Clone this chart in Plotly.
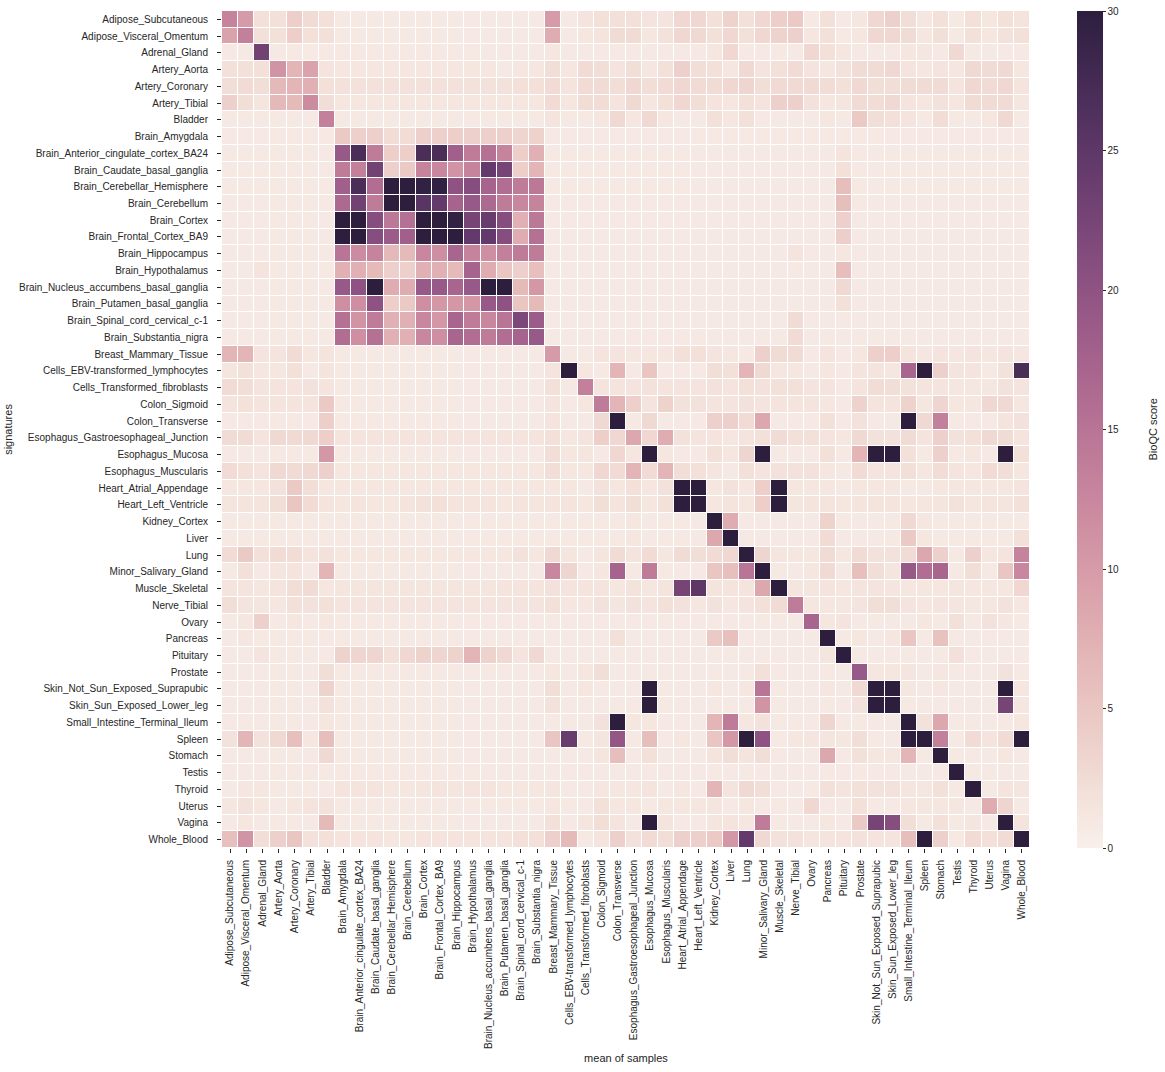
import numpy as np
import plotly.graph_objects as go

tissues = [
    "Adipose_Subcutaneous", "Adipose_Visceral_Omentum", "Adrenal_Gland", "Artery_Aorta",
    "Artery_Coronary", "Artery_Tibial", "Bladder", "Brain_Amygdala",
    "Brain_Anterior_cingulate_cortex_BA24", "Brain_Caudate_basal_ganglia",
    "Brain_Cerebellar_Hemisphere", "Brain_Cerebellum", "Brain_Cortex",
    "Brain_Frontal_Cortex_BA9", "Brain_Hippocampus", "Brain_Hypothalamus",
    "Brain_Nucleus_accumbens_basal_ganglia", "Brain_Putamen_basal_ganglia",
    "Brain_Spinal_cord_cervical_c-1", "Brain_Substantia_nigra", "Breast_Mammary_Tissue",
    "Cells_EBV-transformed_lymphocytes", "Cells_Transformed_fibroblasts", "Colon_Sigmoid",
    "Colon_Transverse", "Esophagus_Gastroesophageal_Junction", "Esophagus_Mucosa",
    "Esophagus_Muscularis", "Heart_Atrial_Appendage", "Heart_Left_Ventricle",
    "Kidney_Cortex", "Liver", "Lung", "Minor_Salivary_Gland", "Muscle_Skeletal",
    "Nerve_Tibial", "Ovary", "Pancreas", "Pituitary", "Prostate",
    "Skin_Not_Sun_Exposed_Suprapubic", "Skin_Sun_Exposed_Lower_leg",
    "Small_Intestine_Terminal_Ileum", "Spleen", "Stomach", "Testis", "Thyroid",
    "Uterus", "Vagina", "Whole_Blood",
]
samples = list(tissues)      # x axis: mean of samples
signatures = list(tissues)   # y axis: signatures

scores = [
 [13,10,2,2,4,2.5,2, 1,1,1,1,1,1,1,1,1,1, 1,1,1,10,1,1.5,2,2,2,1.5,1.5,3,3,2,3.5,2,3, 4,4.5,1,2,0.8,1.2,3,3.8,2.3,1.2,2,1,2,1.2,2,1.5],
 [9,13.5,2,2,4,2,2, 1,1,1,1,1,1,1,1,1,1, 1,1,1,8,1,1.2,1.5,2.5,2.5,1.2,1.8,3,2.8,2,3,2,3, 3.5,3.8,1.2,2,1,1.2,3,3,2.5,1.2,2.2,1,2,1.2,1.8,2],
 [1,1,23,1,1,0.7,1, 1,1,1,1,1,1,1,1,1,1, 1,1,1,1.2,1,1,1,1,1,1,1,1,1,1.2,3,1,1, 1,0.8,3,2,1.2,1,1,1,1.2,1.2,1,2.8,0.8,0.8,1,1],
 [2,2,2,11,7,9,1.5, 1.2,1.2,1.2,1.2,1.2,1.2,1.2,1.2,1.2,1.2, 1,1.2,1.2,2.3,1.2,2.6,2.3,1.5,2.3,1.2,2,3.8,2.3,2,1.2,2.8,1.5, 2,2.6,1.5,1.2,1.8,2.5,2.5,3,1.5,1.2,1.5,1.2,2.8,2.5,2.8,1.2],
 [2.3,2.6,2.3,6.5,7,7.5,2, 1.8,1.8,1.8,1.8,1.8,1.8,1.8,1.8,1.8,1.8, 1.8,2,2,2.6,1.6,2.6,2.5,2.3,3,2.3,2.6,3,2.6,2.5,3,3.2,2.3, 2.7,2.7,2.7,2.4,2,2.8,2.3,2.3,2.5,2.5,2.5,1.5,3,2.6,3,1.5],
 [3.8,2.3,1.4,6.5,6.3,12,2.3, 1.2,1.2,1.2,1.2,1.2,1.2,1.2,1.2,1.2,1.2, 1.2,1.2,1.2,2.6,1.2,2.4,2.4,1.6,2.8,1.2,2,3,2.3,1.5,1.2,2,1.5, 3.8,3.8,1.8,1.2,1.4,2.5,2.4,2.8,1.5,1.2,1.8,1.2,2.5,2.5,2.5,1.2],
 [1,1,1,1,1,1,13.5, 1,1,1,1,1,1,1,1,1,1, 1,1,1,1.5,1,1,1.2,2.8,1.2,2.8,1.2,1,1,2,1.3,2,1, 1,1,1,1.2,1,4.5,2.3,2,1.6,1,2.4,1,1,1.2,2.8,1],
 [1,1,1,1,1,1,1, 4.5,3.8,3.8,2.4,2.4,3.8,3.8,4,3.8,3.8, 3.8,3.2,3.5,1,1,1,1,1,1,1,1,1,1,1,1,1,1, 1,1,1,1,1,1,1,1,1,1,1,1,1,1,1,1],
 [1,1,1,1,1,1,1, 19,27,14,4,4,27,27,18,14,15.5, 13,4,7.5,1,1,1,1,1,1,1,1,1,1,1,1,1,1, 1,1,1,1,1.6,1,1,1,1,1,1,1,1,1,1,1],
 [1,1,1,1,1,1,1, 14,13.5,23,3.8,4.5,13,12.5,11,13,24.5, 22.5,4,7,1,1,1,1,1,1,1,1,1,1,1,1,1,1, 1,1,1,1,2,1,1,1,1,1,1,1,1,1,1,1],
 [1,1,1,1,1,1,1, 18,27,16,30,30,29.5,29.5,20,21,17.5, 16,14,14.5,1,1,1,1,1,1,1,1,1,1,1,1,1,1, 1,1,1,1,6,1,1,1,1,1,1,1,1,1,1,1],
 [1,1,1,1,1,1,1, 16.5,23,14,30,30,25.5,24.5,17.5,19,16.5, 14,12.5,13,1,1,1,1,1,1,1,1,1,1,1,1,1,1, 1,1,1,1,6,1,1,1,1,1,1,1,1,1,1,1],
 [1,1,1,1,1,1,1, 30,30,21,14.5,15.5,30,30,29.5,22.5,24, 21,7.5,14.5,1,1,1,1,1,1,1,1,1,1,1,1,1,1, 1,1,1,1,3.8,1,1,1,1,1,1,1,1,1,1,1],
 [1,1,1,1,1,1,1, 30,30,21,18.5,18,30,30,30,24.5,24.5, 21,8,15.5,1,1,1,1,1,1,1,1,1,1,1,1,1,1, 1,1,1,1,4,1,1,1,1,1,1,1,1,1,1,1],
 [1,1,1,1,1,1,1, 15,12,13,6.5,6.3,12.5,11.5,17,13,11.5, 13.5,14,14,1,1,1,1,1,1,1,1,1,1,1,1,1,1, 1,1.5,1,1,1.2,1,1,1,1,1,1,1,1,1,1,1],
 [1,1,1.6,1,1,1,1, 7.5,7.5,6.3,3.8,3.8,7.5,7.5,6.3,17.5,8, 5,3.8,5.8,1,1,1,1,1,1,1,1,1,1,1,1,1,1, 1,1,1,1,6,1,1,1,1,1,1,1,1,1,1,1],
 [1,1,1,1,1,1,1, 19,20,30,8,8,19,19,17,19,30, 30,6.3,10.5,1,1,1,1,1,1,1,1,1,1,1,1,1,1, 1,1,1,1,2.8,1,1,1,1,1,1,1,1,1,1,1],
 [1,1,1,1,1,1,1, 11.5,11.5,20,4,4.5,11.5,10.5,10.5,10.5,19, 20,5,6.3,1,1,1,1,1,1,1,1,1,1,1,1,1,1, 1,1,1,1,2,1,1,1,1,1,1,1,1,1,1,1],
 [1,1,1,1,1,1,1, 15.5,11,14,7.5,7.5,12.5,10.5,17,14,12.5, 15,22,18.5,1,1,1,1,1,1,1,1,1,1,1,1,1,1, 1,2.5,1,1,1,1,1,1,1,1,1,1,1,1,1,1],
 [1,1,1,1,1,1,1, 16,11.5,15.5,7.5,7.5,12.5,11.5,17,16,14, 16,17.5,19,1,1,1,1,1,1,1,1,1,1,1,1,1,1, 1,2.6,1,1,1,1,1,1,1,1,1,1,1,1,1,1],
 [7,7,1.5,1.5,2.6,1.3,1.5, 1,1,1,1,1,1,1,1,1,1, 1,1,1,10,1,1,1.5,1.5,1.3,1.2,1.2,2,2,1.5,1.3,1,3.8, 2.5,2.5,1,1.5,1,1.2,3.8,4,1.5,1.2,1.5,1.2,1.5,1.3,1.5,1.3],
 [1.4,2,1.3,1.3,2,1,1.6, 1,1,1,1,1,1,1,1,1,1, 1,1,1,1.5,30,1.2,1,7,1,5,1,1,1,2.3,2,7,2.8, 1.2,1.2,1,1.2,1,1.5,1.5,1.2,17,30,3.8,1.5,1.5,1,1.8,27],
 [2.6,2.3,1.5,1.6,1.5,1.8,1.5, 1,1,1,1,1,1,1,1,1,1, 1,1,1,2,1,13.5,1.5,1.5,1.5,1.8,1.5,1.5,1.5,1.8,1.5,2,1.8, 2,2,1.5,1.6,1,1.5,2.4,2.3,1.8,1.5,1.5,1.2,1.2,1.2,1.8,1.5],
 [1.5,1.9,1.5,1.5,1.5,1.6,4.5, 1,1,1,1,1,1,1,1,1,1, 1,1,1,1.5,1,1.3,14,7,3.8,1.5,3.5,1.8,1.8,1.5,1.5,1.8,1.5, 1.5,1.5,1.5,1.2,1,3.5,1.5,1.5,3.5,1.2,3.2,1.2,1.2,3,2.8,1.2],
 [1,1,1,1,1,1,4, 1,1,1,1,1,1,1,1,1,1, 1,1,1,1.5,1,1,2.8,30,1,2.8,1,1,1,3.8,3.8,2.6,8.5, 1,1,1,2,1,1.8,1,1,30,2.8,13.5,1,1,1,1.5,1.8],
 [2.5,2.5,1.6,2.8,2.7,2.8,4, 1.5,1.5,1.5,1.5,1.5,1.5,1.5,1.5,1.5,1.5, 1.5,1.5,1.5,2,1.3,1.6,4,3,8.5,3,8,1.8,1.5,1.5,1.3,1.5,2, 2.5,2,2,1.5,1.3,2.8,1.8,1.8,2.5,1.5,3.8,1.8,2,2.8,2.5,1.5],
 [1,1,1,1,1,1,10.5, 1,1,1,1,1,1,1,1,1,1, 1,1,1,2.3,1.2,1.4,1,3,1.2,30,1.2,1,1,2,1.3,3.2,30, 1,1,1,2,1,7,30,30,2,1,3.8,1,1.2,1,30,2],
 [2.6,2,1.5,2.8,2.5,2.8,3.8, 1.3,1.3,1.3,1.3,1.3,1.3,1.3,1.3,1.3,1.3, 1.3,1.3,1.3,2.3,1.2,1.3,3,2.6,7,2.6,7,2.3,2,1.4,1,2,1.5, 1.8,1.8,1.8,1.3,1,2.6,1.6,1.6,2.2,1.3,2.4,1.6,1.3,2.6,2.3,1.2],
 [1.3,1.3,1.2,1.8,4.5,2.3,1.2, 1.2,1.2,1.2,1.2,1.2,1.2,1.2,1.2,1.2,1.2, 1.3,1.3,1.3,1.3,1.3,1,1.8,1.3,2,1.2,1.8,30,30,1.3,1.8,1.2,4, 30,1.2,1.3,1.3,1,1.3,1.3,1.3,1,1,1.2,1.2,1.2,1.3,1.2,1.6],
 [1.4,1.5,1.5,2.3,5,2.6,1.5, 1.2,1.5,1.2,1.2,1.5,1.8,2,1.5,1.5,1.5, 1.3,1.5,1.4,1.6,1.5,1.2,2.3,1.5,2.3,1.2,2,30,30,1.3,1.6,1.3,4, 30,1.4,1.5,1.5,1.3,1.6,1.5,1.5,1.3,1.2,1.4,1.8,1.3,1.5,1.4,2],
 [1,1,1,1,1,1,1, 1,1,1,1,1,1,1,1,1,1, 1,1,1,1,1,1,1,1,1.2,1,1,1,1,30,8,1,1, 1,1,1,3.5,1,1,1,1,2.8,1.2,1,1,1,1,1,1],
 [1,1,1,1,1,1,1, 1,1,1,1,1,1,1,1,1,1, 1,1,1,1,1,1,1,1,1.2,1,1,1,1,8.5,30,1,1, 1,1,1,2.6,1,1,1,1,4.5,1.2,1,1,1,1,1,2],
 [2.6,4.5,2,2.6,2.4,1.5,1.8, 1.2,1.2,1.2,1.2,1.2,1.2,1.2,1.2,1.2,1.2, 1.2,1.8,1.3,2.8,1.4,1,1.4,2.5,1.5,2.6,1.3,2.5,2.3,2.5,3,30,3.2, 1.4,1.2,1.2,2.5,1.2,2.5,1.8,1.8,2.5,8.5,3.8,1,3.8,1.3,1.6,13],
 [1,2,1,1.4,1.6,1,7, 1,1,1,1,1,1,1,1,1,1, 1,1,1,12.5,3.2,1,1.2,17.5,1,14,1,1,1,5,5.8,15,30, 1,1,1.2,2.7,1,5.8,2.3,1.4,19,16,17,1,2.3,1,5,12.5],
 [1.5,1.5,1.2,1.5,2.3,2.5,1.2, 1.4,1.4,1.4,1.4,1.4,1.4,1.4,1.4,1.4,1.4, 1.5,1.5,1.5,1.8,1.5,1.5,1.5,1.2,1.7,1.2,1.6,22.5,25,1.6,1.5,1.5,8.5, 30,1.4,1.4,1.5,1.3,1.6,1.5,1.4,1.3,1.3,1.3,1.4,1.3,1.3,1.3,3],
 [2.3,1.5,1.4,1.3,2,1.8,2, 1.5,1.5,1.5,1.5,1.5,1.5,1.5,1.5,1.5,1.5, 1.5,1.5,1.5,2,1.2,1.2,1.8,1.4,1.8,1.5,2,1.8,1.3,1.8,1.3,1.5,2, 2.5,14,1.3,1.3,1.2,1.5,2.3,2.3,1.5,1.3,1.5,1.4,1.3,1.3,1.8,1.3],
 [1,1.3,3.8,1,1.2,1,1.2, 1,1,1,1,1,1,1,1,1,1, 1,1,1,1,1,1,1,1,1,1,1,1,1,1,1,1,1, 1,1,17,1.3,1.5,1,1,1,1,1.2,1,2,1,1.8,1.3,1],
 [1,1.3,1,1,1,1,1, 1,1,1,1,1,1,1,1,1,1, 1,1,1,1,1,1,1,2,1,1,1,1,1,4.5,5.8,1,1, 1,1,1,30,1,1.3,1,1.3,5,1,5.5,1,1,1,1,1],
 [1,1,1.5,1,1,1,1, 3.5,3.2,3.2,2,3,3.5,3.2,3.5,7,3.5, 2.8,1.5,2.8,1,1,1,1,1,1,1,1,1,1,1,1,1,1, 1,1,1,1.4,30,1,1,1,1,1,1,2,1,1,1,1],
 [1,1,1,1,1,1,2.3, 1,1,1,1,1,1,1,1,1,1, 1,1,1,1.3,1,1.3,2.3,1,1,1,1,1,1,1,1,1,2, 1,1,1,1,1,19,1.3,1.3,1.4,1,1.3,1,1,1,1.8,1],
 [1,1,1,1,1,1,3.6, 1,1,1,1,1,1,1,1,1,1, 1,1,1,2.3,1,1.2,1,1,1,30,1,1,1,1.2,1,1.3,15, 1,1,1,1.2,1,2.8,30,30,1.2,1,1.2,1,1,1,30,1.3],
 [1,1,1,1,1,1,1.8, 1,1,1,1,1,1,1,1,1,1, 1,1,1,1.8,1,1,1,1,1,30,1,1,1,1,1,1,11, 1,1,1,1,1,1.8,30,30,1,1,1,1,1,1,22.5,1.2],
 [1,1,1,1,1,1,1.3, 1,1,1,1,1,1,1,1,1,1, 1,1,1,1,1,1,1.8,30,1.2,1.2,1,1,1,7,14,1.2,1.8, 1,1,1,3.2,1,1,1,1,30,1.8,8.5,1,1,1,1,1.3],
 [1.8,7,1.8,2.8,5.8,1.2,6, 1,1,1,1,1,1,1,1,1,1, 1,1,1,5,24,1,1.4,19.5,1,6,1,1.3,1,5,10.5,30,20, 1,1.2,1.4,1.4,1.2,2.3,1,1,30,30,13.5,1,2.6,1.5,2.6,30],
 [1,1,1,1,1,1,2.8, 1,1,1,1,1,1,1,1,1,1, 1,1,1,1,1,1,1.4,6,1,2,1,1,1,1.6,2.3,1.5,2.3, 1,1,1,8.5,1,2,1.3,1.3,7,1,30,1,1,1,1.3,1],
 [1,1,1,1,1,1,1, 1,1,1,1,1,1,1,1,1,1, 1,1,1,1,1,1,1,1,1,1,1,1,1,1,1,1,1, 1,1,1,1,1,1,1,1,1,1,1,30,1,1,1,1],
 [1,1.3,1.3,1,1,1,1, 1.5,1.6,1.6,1.3,1.2,1.4,1.6,1.4,1.6,1.6, 1.3,1.3,1.3,1.4,1,1,1.2,1.3,1.3,1.6,1,1.2,1,7,1.5,2.8,2.3, 1,1,1,2,1.5,2,1.8,1.8,1.4,1.2,2,1,30,1,1.5,1.4],
 [1.2,1.8,1.2,1,1.3,1.5,1.8, 1,1,1,1,1,1,1,1,1,1, 1,1,1,1.2,1,1,2,1.2,1.2,1,1.2,1.2,1.2,1.4,1,1.2,1, 1,1,3,1,1,2,1,1,1.2,1.2,1.2,1.2,1,8,3.2,1],
 [1,1.3,1,1,1,1,6.3, 1,1,1,1,1,1,1,1,1,1, 1,1,1,2,1,1.4,2.3,1.5,1,30,1.5,1,1,1.4,1.5,1.2,14, 1,1,1,1.3,1,4.5,22.5,21,2.3,1,2,1,1.4,1,30,1.5],
 [5.8,11,2.3,3.8,5,1.8,2, 1.5,1.5,1.5,1.3,1.3,1.5,1.5,1.6,1.6,1.6, 1.5,2,2,3.8,6.3,1,1.5,3.8,1.8,2.6,2.3,3.8,3.8,4.5,10.5,24.5,2.8, 1.8,1.8,1.4,1.5,1.5,1.8,1.6,1.6,6,30,3.8,1,2.6,2,2.6,30],
]
assert len(scores) == 50 and all(len(r) == 50 for r in scores), [len(r) for r in scores]

colorbar_ticks = [0, 5, 10, 15, 20, 25, 30]


def cubehelix_colorscale(light=0.95, dark=0.15, start=0.0, rot=0.4, hue=0.8, n=64):
    scale = []
    for i in range(n):
        t = i / (n - 1)
        x = light + (dark - light) * t
        a = hue * x * (1 - x) / 2
        phi = 2 * np.pi * (start / 3 + rot * x)
        c, s = np.cos(phi), np.sin(phi)
        r = x + a * (-0.14861 * c + 1.78277 * s)
        g = x + a * (-0.29227 * c - 0.90649 * s)
        b = x + a * (1.97294 * c)
        rgb = [int(round(255 * min(1, max(0, v)))) for v in (r, g, b)]
        scale.append([t, f"rgb({rgb[0]},{rgb[1]},{rgb[2]})"])
    return scale


FONT = "Liberation Sans, Arial, sans-serif"
TXT = "#262626"

fig = go.Figure(
    go.Heatmap(
        z=scores,
        x=samples,
        y=signatures,
        zmin=0,
        zmax=30,
        colorscale=cubehelix_colorscale(),
        xgap=1,
        ygap=1,
        colorbar=dict(
            x=1.058,
            xanchor="left",
            xpad=0,
            y=0.5,
            yanchor="middle",
            len=1,
            ypad=0,
            thickness=26,
            outlinewidth=0,
            tickvals=colorbar_ticks,
            ticks="outside",
            ticklen=3,
            tickcolor=TXT,
            tickfont=dict(family=FONT, size=10, color=TXT),
        ),
    )
)

fig.update_layout(
    width=1165,
    height=1072,
    margin=dict(l=222, r=135, t=11, b=224),
    paper_bgcolor="white",
    plot_bgcolor="white",
    font=dict(family=FONT, size=10, color=TXT),
    annotations=[dict(
        text="BioQC score", xref="paper", yref="paper", x=1.151, y=0.5,
        xanchor="center", yanchor="middle", textangle=-90, showarrow=False,
        font=dict(family=FONT, size=11, color=TXT),
    )],
)
fig.update_xaxes(
    type="category",
    automargin=False,
    tickangle=-90,
    ticks="outside",
    ticklen=4,
    tickcolor=TXT,
    ticklabelstandoff=3,
    tickfont=dict(family=FONT, size=10, color=TXT),
    showgrid=False,
    zeroline=False,
    showline=False,
    title=dict(text="mean of samples", font=dict(family=FONT, size=11, color=TXT), standoff=6),
)
fig.update_yaxes(
    type="category",
    automargin=False,
    autorange="reversed",
    ticks="outside",
    ticklen=4,
    tickcolor=TXT,
    ticklabelstandoff=7,
    tickfont=dict(family=FONT, size=10, color=TXT),
    showgrid=False,
    zeroline=False,
    showline=False,
    title=dict(text="signatures", font=dict(family=FONT, size=11, color=TXT), standoff=4),
)

fig.write_html("out.html")
